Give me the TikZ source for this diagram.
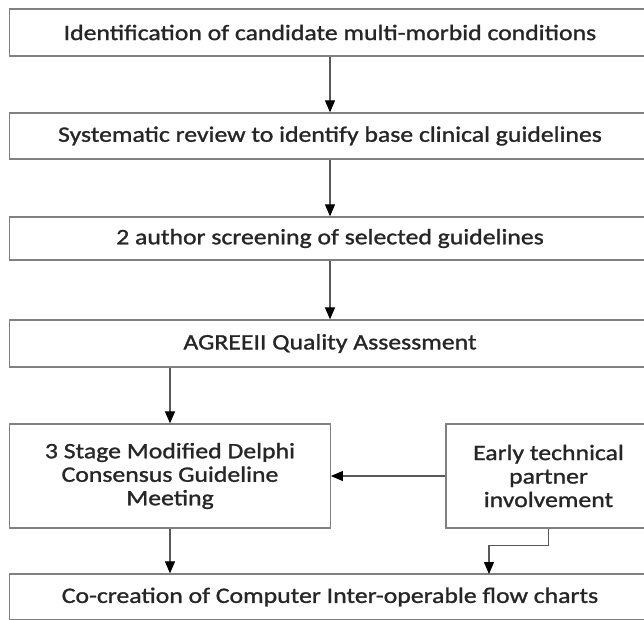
\documentclass[tikz,border=0pt]{standalone}
\usepackage{fontspec}
\setmainfont{Carlito}[FakeStretch=1.17,FakeBold=1.2]
\usetikzlibrary{arrows.meta}
\tikzset{gbox/.style={
    rectangle,
    draw=black!50,
    line width=1.3pt,
    text=black!85,
    align=center,
    font=\fontsize{22}{23.5}\selectfont,
    inner sep=0pt
  },
  wbox/.style={gbox,minimum width=641.5pt,minimum height=46pt},
  sbox/.style={gbox,minimum height=104pt},
  link/.style={draw=black!65,line width=1.1pt,-{Triangle[length=12pt,width=10pt,color=black]}},
}

\begin{document}
\begin{tikzpicture}[x=1pt,y=-1pt]
  \useasboundingbox (0,0) rectangle (644,619);
  \clip (0,0) rectangle (644,619);
  \node [wbox,minimum height=47pt] (ident) at (330,32.5) {Identification of candidate multi-morbid conditions};
  \node [wbox] (review) at (330,136) {Systematic review to identify base clinical guidelines};
  \node [wbox,minimum height=43pt] (screen) at (330,238.5) {2 author screening of selected guidelines};
  \node [wbox,minimum height=47pt] (agree) at (330,343.5) {AGREEII Quality Assessment};
  \node [sbox,minimum width=320.5pt] (delphi) at (170,476) {3 Stage Modified Delphi\\Consensus Guideline\\Meeting};
  \node [sbox,minimum width=205pt] (partner) at (548.5,476) {Early technical\\partner\\involvement};
  \node [wbox] (cocreate) at (330,597) {Co-creation of Computer Inter-operable flow charts};
  \coordinate (tip) at (489,574);
  % arrows
  \draw[link] (ident) -- (review);
  \draw[link] (review) -- (screen);
  \draw[link] (screen) -- (agree);
  \draw[link] (delphi.north |- agree.south) -- (delphi.north);
  \draw[link] (partner.west) -- (delphi.east);
  \draw[link] (delphi.south) -- (delphi.south |- cocreate.north);
  \draw[link] (partner.south) -- ++(0,17) -| (tip);
\end{tikzpicture}
\end{document}
